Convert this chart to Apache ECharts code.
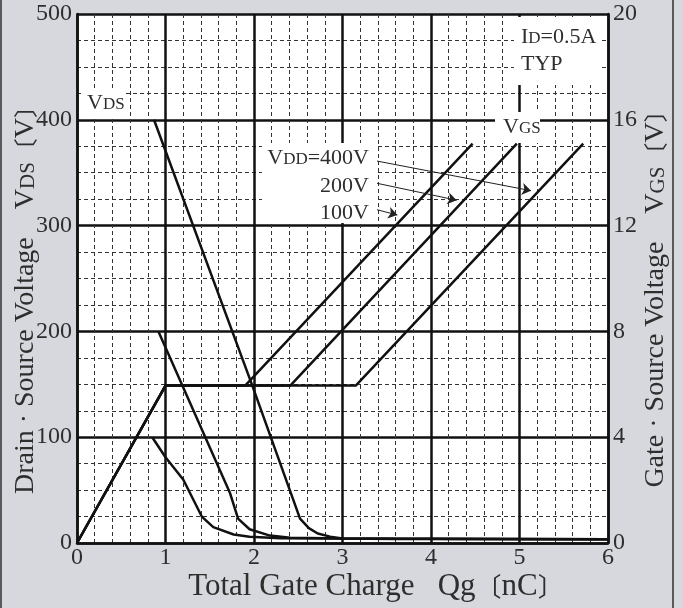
<!DOCTYPE html>
<html>
<head>
<meta charset="utf-8">
<script src="https://cdn.jsdelivr.net/npm/echarts@6/dist/echarts.min.js"></script>
<style>
  html, body { margin: 0; padding: 0; background: #d6d8dd; }
  #chart { width: 683px; height: 608px; }
</style>
</head>
<body>
<div id="chart"></div>
<script>
// Gate charge characteristics: VDS (left axis, V) and VGS (right axis, V) vs Qg (nC)

// Drain-source voltage curves for each supply voltage [Qg nC, VDS V]
const vds400 = [[0.87, 400], [1.98, 149], [2.52, 23], [2.62, 14], [2.72, 9], [2.86, 6], [3.0, 4.2], [3.6, 3.8], [6.0, 3.5]];
const vds200 = [[0.92, 200], [1.73, 47], [1.82, 23], [1.95, 13], [2.18, 7], [2.41, 5], [3.0, 4.2], [6.0, 3.5]];
const vds100 = [[0.85, 100], [1.0, 81], [1.2, 60], [1.41, 25], [1.54, 15], [1.77, 8], [1.95, 6], [2.3, 4.6], [3.0, 4.2], [6.0, 3.5]];

// Gate-source voltage curves [Qg nC, VGS V]
const vgs100 = [[0, 0], [1.0, 5.95], [1.90, 5.95], [4.47, 15.1]];
const vgs200 = [[0, 0], [1.0, 5.95], [2.41, 5.95], [4.97, 15.1]];
const vgs400 = [[0, 0], [1.0, 5.95], [3.15, 5.95], [5.72, 15.1]];

// Leader arrows from the VDD labels to the VGS curves [Qg nC, VDS-scale V]
const arrow400 = [[3.39, 361], [5.13, 333]];
const arrow200 = [[3.39, 340], [4.29, 324]];
const arrow100 = [[3.39, 315], [3.62, 310]];

const vddLabels = ['400V', '200V', '100V'];

const SERIF = '"Liberation Serif", "Noto Sans CJK JP", serif';
const INK = '#111';
const TEXT = '#2e2e2e';

const chart = echarts.init(document.getElementById('chart'), null, { renderer: 'canvas' });

const curveStyle = { color: INK, width: 2.5 };
function curve(name, data, yAxisIndex) {
  return {
    name, type: 'line', data, yAxisIndex,
    showSymbol: false, symbol: 'none', smooth: false,
    lineStyle: curveStyle, z: 3, silent: true
  };
}
function arrow(coords) {
  return {
    type: 'lines', coordinateSystem: 'cartesian2d', yAxisIndex: 0,
    symbol: ['none', 'arrow'], symbolSize: 9,
    lineStyle: { color: '#222', width: 1, curveness: 0, opacity: 1 },
    data: [{ coords }], z: 4, silent: true
  };
}

const subRich = (big, small) => ({
  a: { fontFamily: SERIF, fontSize: big, color: TEXT, verticalAlign: 'bottom', lineHeight: big },
  b: { fontFamily: SERIF, fontSize: small, color: TEXT, verticalAlign: 'bottom', lineHeight: big, padding: [0, 0, 1, 0] },
  k: { fontFamily: SERIF, fontSize: Math.round(big * 0.85), color: TEXT, verticalAlign: 'bottom', lineHeight: big }
});

function label(x, y, text, opts) {
  return Object.assign({
    type: 'text', x, y, z: 20,
    style: Object.assign({
      text, fill: TEXT, font: '22px ' + SERIF,
      align: 'left', verticalAlign: 'middle', rich: subRich(22, 17)
    }, (opts && opts.style) || {})
  }, opts && opts.rotation !== undefined ? { rotation: opts.rotation } : {});
}
function whiteBox(x, y, w, h) {
  return { type: 'rect', shape: { x, y, width: w, height: h }, style: { fill: '#fff' }, z: 1, silent: true };
}

const option = {
  backgroundColor: '#d6d8dd',
  animation: false,
  grid: { left: 77, right: 75, top: 14, bottom: 65, containLabel: false, show: true, backgroundColor: '#fff', borderWidth: 0 },
  xAxis: {
    type: 'value', min: 0, max: 6, interval: 1,
    axisLine: { show: true, lineStyle: { color: INK, width: 2.5 } },
    axisTick: { show: false },
    axisLabel: { fontFamily: SERIF, fontSize: 24, color: TEXT, margin: 3 },
    splitLine: { show: true, lineStyle: { color: INK, width: 2.5 } },
    minorTick: { show: false, splitNumber: 5 },
    minorSplitLine: { show: true, lineStyle: { color: '#333', width: 1, type: [4, 3] } }
  },
  yAxis: [
    {
      type: 'value', min: 0, max: 500, interval: 100,
      axisLine: { show: true, lineStyle: { color: INK, width: 2.5 } },
      axisTick: { show: false },
      axisLabel: { fontFamily: SERIF, fontSize: 24, color: TEXT, margin: 5 },
      splitLine: { show: true, lineStyle: { color: INK, width: 2.5 } },
      minorTick: { show: false, splitNumber: 4 },
      minorSplitLine: { show: true, lineStyle: { color: '#333', width: 1, type: [4, 3] } }
    },
    {
      type: 'value', min: 0, max: 20, interval: 4, position: 'right',
      axisLine: { show: true, lineStyle: { color: INK, width: 2.5 } },
      axisTick: { show: false },
      axisLabel: { fontFamily: SERIF, fontSize: 24, color: TEXT, margin: 5 },
      splitLine: { show: false }
    }
  ],
  series: [
    curve('VDS 400V', vds400, 0),
    curve('VDS 200V', vds200, 0),
    curve('VDS 100V', vds100, 0),
    curve('VGS 100V', vgs100, 1),
    curve('VGS 200V', vgs200, 1),
    curve('VGS 400V', vgs400, 1),
    arrow(arrow400),
    arrow(arrow200),
    arrow(arrow100)
  ],
  graphic: [
    // page frame edges
    { type: 'rect', shape: { x: 0, y: 0, width: 2, height: 608 }, style: { fill: '#5a5a5a' }, z: 30, silent: true },
    { type: 'rect', shape: { x: 672, y: 0, width: 2, height: 608 }, style: { fill: '#5a5a5a' }, z: 30, silent: true },

    // clear patches behind the in-plot annotations
    whiteBox(83, 88, 43, 29),
    whiteBox(514, 17, 85, 68),
    whiteBox(495, 112, 45, 31),
    whiteBox(262, 143, 114, 80),

    label(87, 103, '{a|V}{b|DS}'),
    label(521, 37, '{a|I}{b|D}{a|=0.5A}'),
    label(521, 64, 'TYP'),
    label(503, 127, '{a|V}{b|GS}'),
    label(369, 158, '{a|V}{b|DD}{a|=' + vddLabels[0] + '}', { style: { align: 'right' } }),
    label(369, 186, vddLabels[1], { style: { align: 'right' } }),
    label(369, 213, vddLabels[2], { style: { align: 'right' } }),

    // axis titles
    label(376, 587, '{a|Total Gate Charge\u2002 Qg}{k|\u3014}{a|nC}{k|\u3015}', {
      style: { align: 'center', rich: subRich(31, 23) }
    }),
    label(26, 294, '{a|Drain \u00b7 Source Voltage\u3000V}{b|DS}{k|\u3014}{a|V}{k|\u3015}', {
      rotation: Math.PI / 2,
      style: { align: 'center', rich: subRich(28, 21) }
    }),
    label(656, 293, '{a|Gate \u00b7 Source Voltage\u3000V}{b|GS}{k|\u3014}{a|V}{k|\u3015}', {
      rotation: Math.PI / 2,
      style: { align: 'center', rich: subRich(28, 21) }
    })
  ]
};

chart.setOption(option);
</script>
</body>
</html>
